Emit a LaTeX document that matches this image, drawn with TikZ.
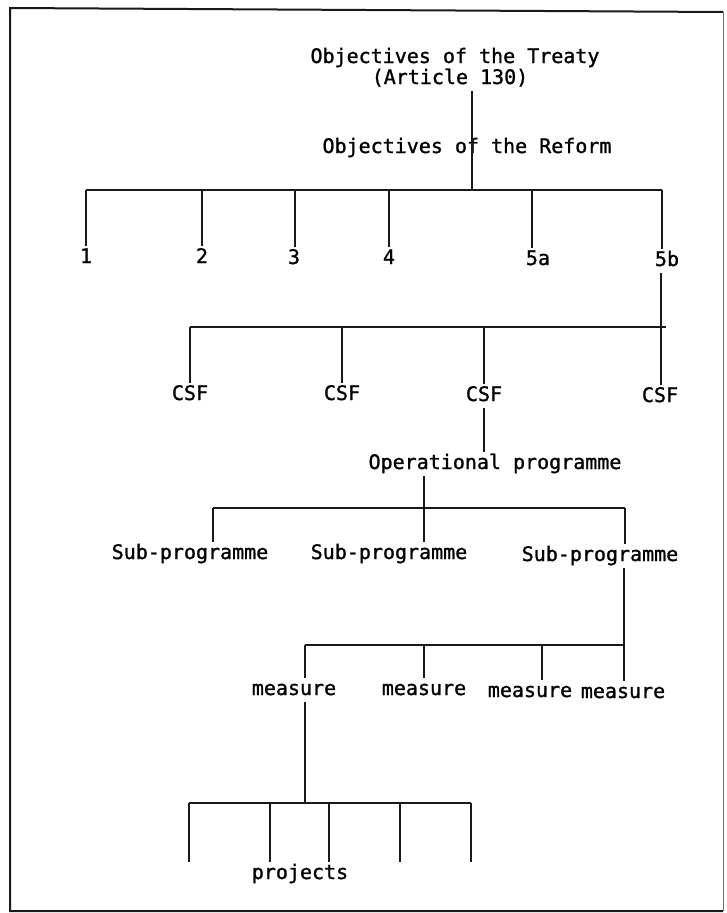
\documentclass[tikz,border=0pt]{standalone}
\usepackage{fontspec}
\newfontfamily\tw[UprightFeatures={FakeBold=1.2}]{DejaVu Sans Mono}
\begin{document}
\begin{tikzpicture}[x=1pt,y=-1pt,
  lbl/.style={font=\tw\fontsize{20}{24}\selectfont, inner sep=0pt, outer sep=2pt,
              text height=15pt, text depth=5pt, anchor=base},
  ln/.style={line width=1.5pt, draw=black!90},
  frame/.style={line width=2pt, draw=black!90}]
\useasboundingbox (0,0) rectangle (726,913);
\fill[white] (0,0) rectangle (726,913);
% frame
\draw[frame] (723,12) -- (10,8) -- (10,911) -- (723,911);
\draw[line width=0.8pt, draw=black!55] (723,12) -- (723,911);

% ---------- nodes ----------
\node[lbl] (tr)  at (455,63)  {Objectives of the Treaty};
\node[lbl] (art) at (450,84)  {(Article 130)};
\node[lbl] (ref) at (467,153) {Objectives of the Reform};

\node[lbl] (o1) at (86,263)  {1};
\node[lbl] (o2) at (202,263) {2};
\node[lbl] (o3) at (294,264) {3};
\node[lbl] (o4) at (389,264) {4};
\node[lbl] (o5) at (538,265) {5a};
\node[lbl] (o6) at (667,266) {5b};

\node[lbl] (c1) at (190,400) {CSF};
\node[lbl] (c2) at (342,400) {CSF};
\node[lbl] (c3) at (484,401) {CSF};
\node[lbl] (c4) at (660,402) {CSF};

\node[lbl] (op) at (495,469) {Operational programme};

\node[lbl] (s1) at (190,559) {Sub-programme};
\node[lbl] (s2) at (389,559) {Sub-programme};
\node[lbl] (s3) at (600,561) {Sub-programme};

\node[lbl] (m1) at (294,695) {measure};
\node[lbl] (m2) at (424,695) {measure};
\node[lbl] (m3) at (530,697) {measure};
\node[lbl] (m4) at (623,698) {measure};

\node[lbl] (pr) at (300,879) {projects};

% ---------- junction coordinates ----------
\coordinate (j0) at (472,190);
\coordinate (j1) at (86,190);
\coordinate (j2) at (202,190);
\coordinate (j3) at (295,190);
\coordinate (j4) at (389,190);
\coordinate (j5) at (532,190);
\coordinate (j6) at (662,190);

\coordinate (kL) at (190,327);
\coordinate (k2) at (342,327);
\coordinate (k3) at (484,327);
\coordinate (k4) at (661,327);
\coordinate (kR) at (666,327);

\coordinate (u1) at (213,508);
\coordinate (u2) at (424,508);
\coordinate (u3) at (625,508);

\coordinate (q1) at (305,645);
\coordinate (q2) at (424,645);
\coordinate (q3) at (542,645);
\coordinate (q4) at (624,645);

\coordinate (p0) at (305,803);
\coordinate (p1) at (189,803);
\coordinate (p2) at (270,803);
\coordinate (p3) at (329,803);
\coordinate (p4) at (400,803);
\coordinate (p5) at (471,803);
\coordinate (e1) at (189,862);
\coordinate (e2) at (270,862);
\coordinate (e3) at (329,862);
\coordinate (e4) at (400,862);
\coordinate (e5) at (471,862);

% ---------- connectors ----------
% treaty -> reform -> bar
\draw[ln] (art.south -| j0) -- (j0);
\draw[ln] (j1) -- (j6);
\foreach \j/\o in {j1/o1,j2/o2,j3/o3,j4/o4,j5/o5,j6/o6}
  \draw[ln] (\j) -- (\o.north -| \j);

% 5b -> CSF
\draw[ln] (o6.south -| k4) -- (c4.north -| k4);
\draw[ln] (kL) -- (kR);
\foreach \k/\c in {kL/c1,k2/c2,k3/c3}
  \draw[ln] (\k) -- (\c.north -| \k);

% CSF -> operational programme
\draw[ln] (c3.south) -- (op.north -| c3);

% operational programme -> sub-programmes
\draw[ln] (op.south -| u2) -- (s2.north -| u2);
\draw[ln] (u1) -- (u3);
\draw[ln] (u1) -- (s1.north -| u1);
\draw[ln] (u3) -- (s3.north -| u3);

% sub-programme -> measures
\draw[ln] (s3.south -| q4) -- (m4.north -| q4);
\draw[ln] (q1) -- (q4);
\foreach \q/\m in {q1/m1,q2/m2,q3/m3}
  \draw[ln] (\q) -- (\m.north -| \q);

% measure -> projects
\draw[ln] (m1.south -| p0) -- (p0);
\draw[ln] (p1) -- (p5);
\foreach \p/\e in {p1/e1,p2/e2,p3/e3,p4/e4,p5/e5}
  \draw[ln] (\p) -- (\e);
\end{tikzpicture}
\end{document}
